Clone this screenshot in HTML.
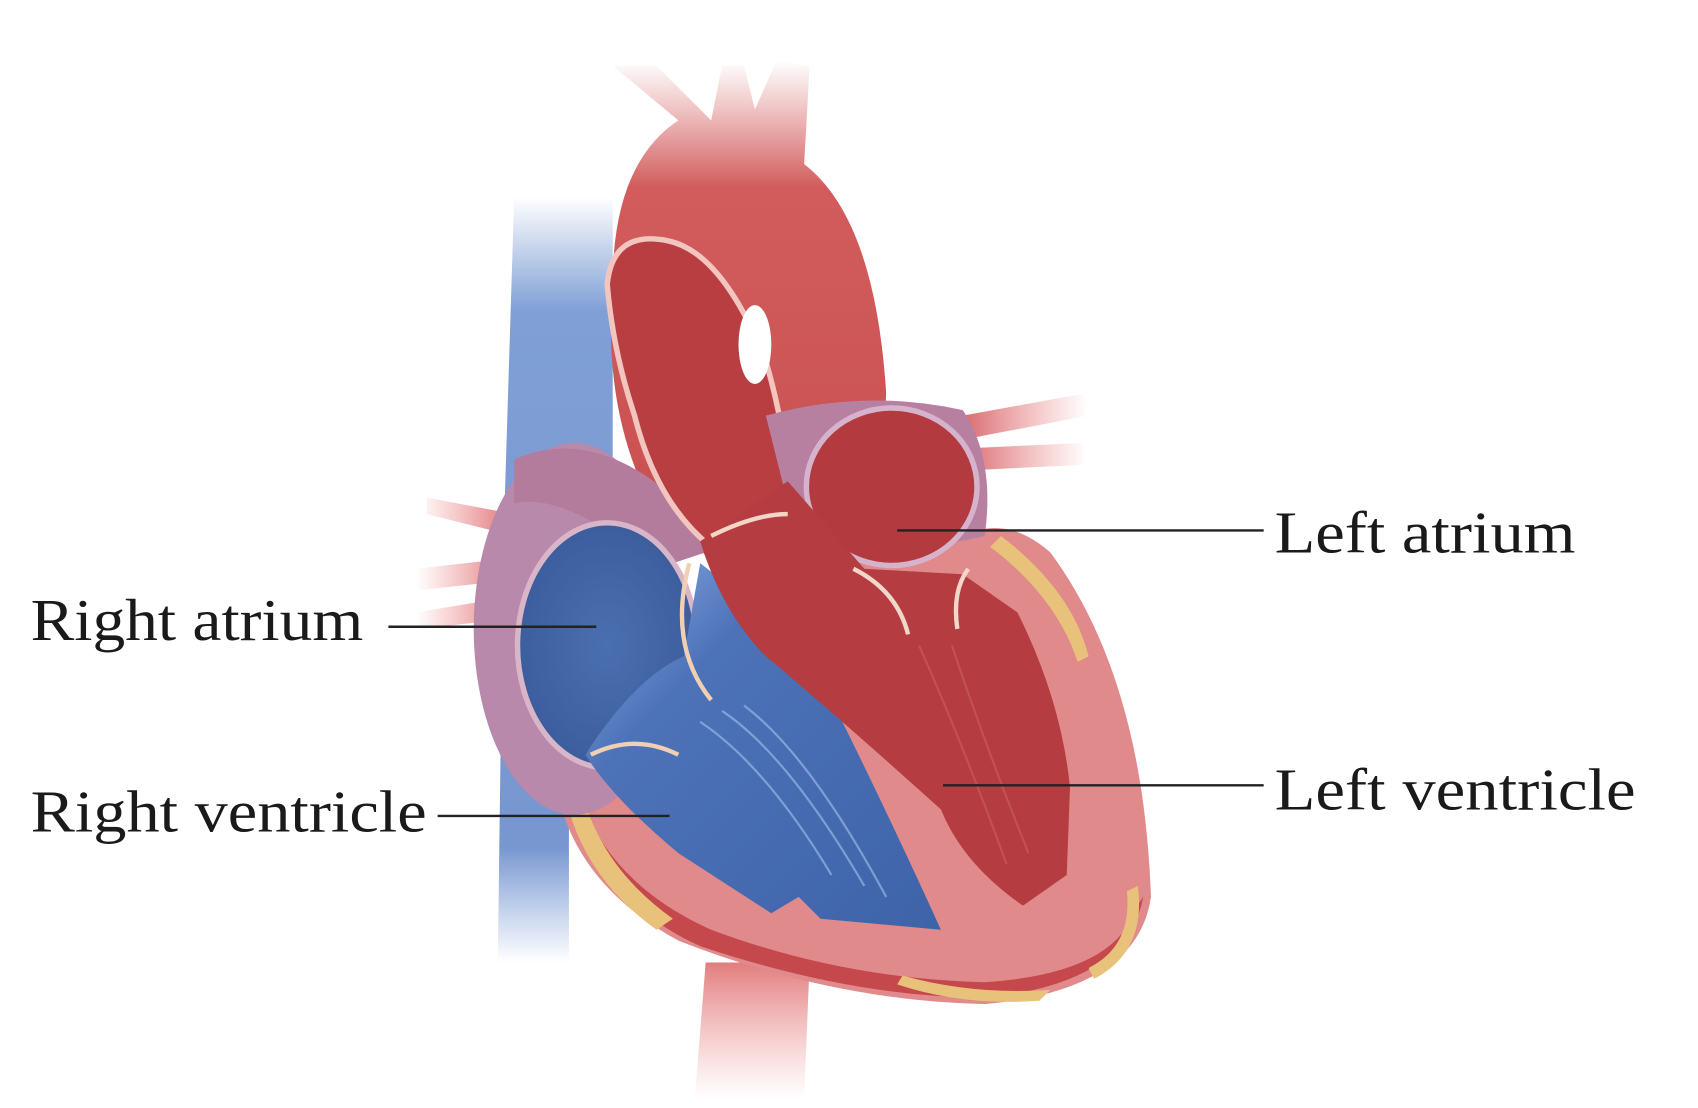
<!DOCTYPE html>
<html><head><meta charset="utf-8"><style>
html,body{margin:0;padding:0;background:#fff;width:1698px;height:1108px;overflow:hidden}
svg{display:block}
text{font-family:"Liberation Serif",serif;fill:#1a1a1a}
</style></head><body>
<svg width="1698" height="1108" viewBox="0 0 1552 1013" preserveAspectRatio="none" xmlns="http://www.w3.org/2000/svg">
<defs>
<linearGradient id="vc" x1="0" y1="0" x2="0" y2="1">
<stop offset="0" stop-color="#7f9fd6" stop-opacity="0"/><stop offset="0.15" stop-color="#7f9fd6"/><stop offset="0.85" stop-color="#7896d0"/><stop offset="1" stop-color="#7f9fd6" stop-opacity="0"/></linearGradient>
<linearGradient id="ao" x1="0" y1="0" x2="0" y2="1">
<stop offset="0" stop-color="#d9686a" stop-opacity="0"/><stop offset="0.25" stop-color="#d25c5c"/><stop offset="1" stop-color="#c84f50"/></linearGradient>
<linearGradient id="da" x1="0" y1="0" x2="0" y2="1">
<stop offset="0" stop-color="#e27d7d"/><stop offset="1" stop-color="#f0a0a0" stop-opacity="0"/></linearGradient>
<linearGradient id="pv" x1="0" y1="0" x2="1" y2="0">
<stop offset="0" stop-color="#d86a6e"/><stop offset="1" stop-color="#e88" stop-opacity="0"/></linearGradient>
<linearGradient id="pvl" x1="1" y1="0" x2="0" y2="0">
<stop offset="0" stop-color="#e07074"/><stop offset="1" stop-color="#e88" stop-opacity="0"/></linearGradient>
<radialGradient id="ra" cx="0.5" cy="0.5" r="0.6"><stop offset="0" stop-color="#4a6fb0"/><stop offset="1" stop-color="#3a5a9a"/></radialGradient>
<linearGradient id="rv" x1="0" y1="0" x2="1" y2="1"><stop offset="0" stop-color="#8fb0e8"/><stop offset="0.3" stop-color="#4d72b8"/><stop offset="1" stop-color="#3e63a8"/></linearGradient>
</defs>

<path d="M470 180 L560 180 L560 700 L520 700 L520 880 L455 880 L460 500 Z" fill="url(#vc)"/>
<path d="M645 880 L740 880 L735 1005 L635 1005 Z" fill="url(#da)"/>
<path d="M880 380 L990 360 L995 380 L890 400 Z M880 410 L990 405 L990 425 L885 430 Z" fill="url(#pv)"/>
<path d="M470 470 L390 455 L390 470 L470 490 Z M470 510 L380 520 L380 540 L470 530 Z M470 545 L380 560 L385 575 L470 565 Z" fill="url(#pvl)"/>
<path d="M560 260 Q560 150 620 110 L560 60 L600 60 L650 110 L660 60 L680 60 L690 100 L710 55 L740 60 L735 150 Q800 200 810 360 L800 520 L660 520 L600 470 Q550 380 560 260 Z" fill="url(#ao)"/>
<path d="M505 690 Q510 800 620 860 Q760 915 900 918 Q1040 905 1052 820 Q1045 620 960 505 Q920 470 880 490 L700 500 L560 620 Z" fill="#e08a8c"/>
<path d="M520 740 Q560 830 640 865 Q780 912 900 912 Q1030 900 1045 820 L1038 830 Q1020 890 900 898 Q770 895 650 850 Q560 810 530 730 Z" fill="#c4484c"/>
<path d="M515 720 Q530 800 600 850 L615 840 Q545 790 530 715 Z" fill="#e8c27a"/>
<path d="M820 900 Q880 920 950 915 L960 905 Q890 910 825 892 Z" fill="#e8c27a"/>
<path d="M915 490 Q980 540 995 600 L985 605 Q965 545 905 500 Z" fill="#e8c27a"/>
<path d="M1040 810 Q1048 870 1000 895 L995 885 Q1035 865 1030 815 Z" fill="#e8c27a"/>
<ellipse cx="525" cy="575" rx="92" ry="170" fill="#b989ab"/>
<path d="M470 420 Q560 380 660 500 L600 520 Q520 450 470 460 Z" fill="#b47c9c"/>
<ellipse cx="555" cy="590" rx="82" ry="112" fill="url(#ra)" stroke="#d8b6c8" stroke-width="5"/>
<path d="M535 690 Q580 620 625 600 L640 515 Q700 560 760 640 Q810 740 860 850 L750 840 L730 820 L705 835 L620 780 Q560 730 535 690 Z" fill="url(#rv)"/>
<g stroke="#a8c2f0" stroke-width="2" fill="none" opacity="0.6">
<path d="M640 660 Q700 700 760 800"/><path d="M660 650 Q720 690 790 810"/><path d="M680 645 Q740 690 810 820"/>
</g>
<path d="M540 690 Q580 670 620 690" stroke="#f0d0b0" stroke-width="4" fill="none"/>
<path d="M630 515 Q610 590 650 640" stroke="#f0d0b0" stroke-width="4" fill="none"/>
<path d="M555 260 Q560 210 610 220 Q660 230 700 330 Q720 400 720 450 L650 500 Q600 460 580 380 Q560 320 555 260 Z" fill="#b83e42" stroke="#f2c6bf" stroke-width="5"/>
<ellipse cx="690" cy="315" rx="15" ry="36" fill="#fff"/>
<path d="M700 380 Q790 355 880 375 Q910 420 900 490 L760 520 L720 460 Z" fill="#b780a0"/>
<ellipse cx="815" cy="445" rx="78" ry="72" fill="#b33a3e" stroke="#d6b3cc" stroke-width="5"/>
<path d="M640 495 L720 440 L790 520 L880 525 L930 560 Q970 640 978 720 L975 800 L935 828 Q880 790 860 740 Q760 650 700 600 Q660 560 640 495 Z" fill="#b53c40"/>
<g stroke="#c85a5c" stroke-width="2" fill="none" opacity="0.7">
<path d="M840 590 Q880 680 920 790"/><path d="M870 590 Q900 680 940 780"/>
</g>
<path d="M650 490 Q690 470 720 470" stroke="#f2d6c8" stroke-width="4" fill="none"/>
<path d="M780 520 Q820 540 830 580" stroke="#f2d6c8" stroke-width="4" fill="none"/>
<path d="M885 520 Q870 540 875 575" stroke="#f2d6c8" stroke-width="4" fill="none"/>
<g stroke="#222" stroke-width="2.2">
<line x1="355" y1="573" x2="545" y2="573"/>
<line x1="400" y1="746" x2="612" y2="746"/>
<line x1="820" y1="485" x2="1155" y2="485"/>
<line x1="862" y1="718" x2="1155" y2="718"/>
</g>
<text x="28" y="585" font-size="54" textLength="304" lengthAdjust="spacingAndGlyphs">Right atrium</text>
<text x="28" y="760" font-size="54" textLength="362" lengthAdjust="spacingAndGlyphs">Right ventricle</text>
<text x="1165" y="505" font-size="54" textLength="275" lengthAdjust="spacingAndGlyphs">Left atrium</text>
<text x="1165" y="740" font-size="54" textLength="330" lengthAdjust="spacingAndGlyphs">Left ventricle</text>
</svg>
</body></html>
